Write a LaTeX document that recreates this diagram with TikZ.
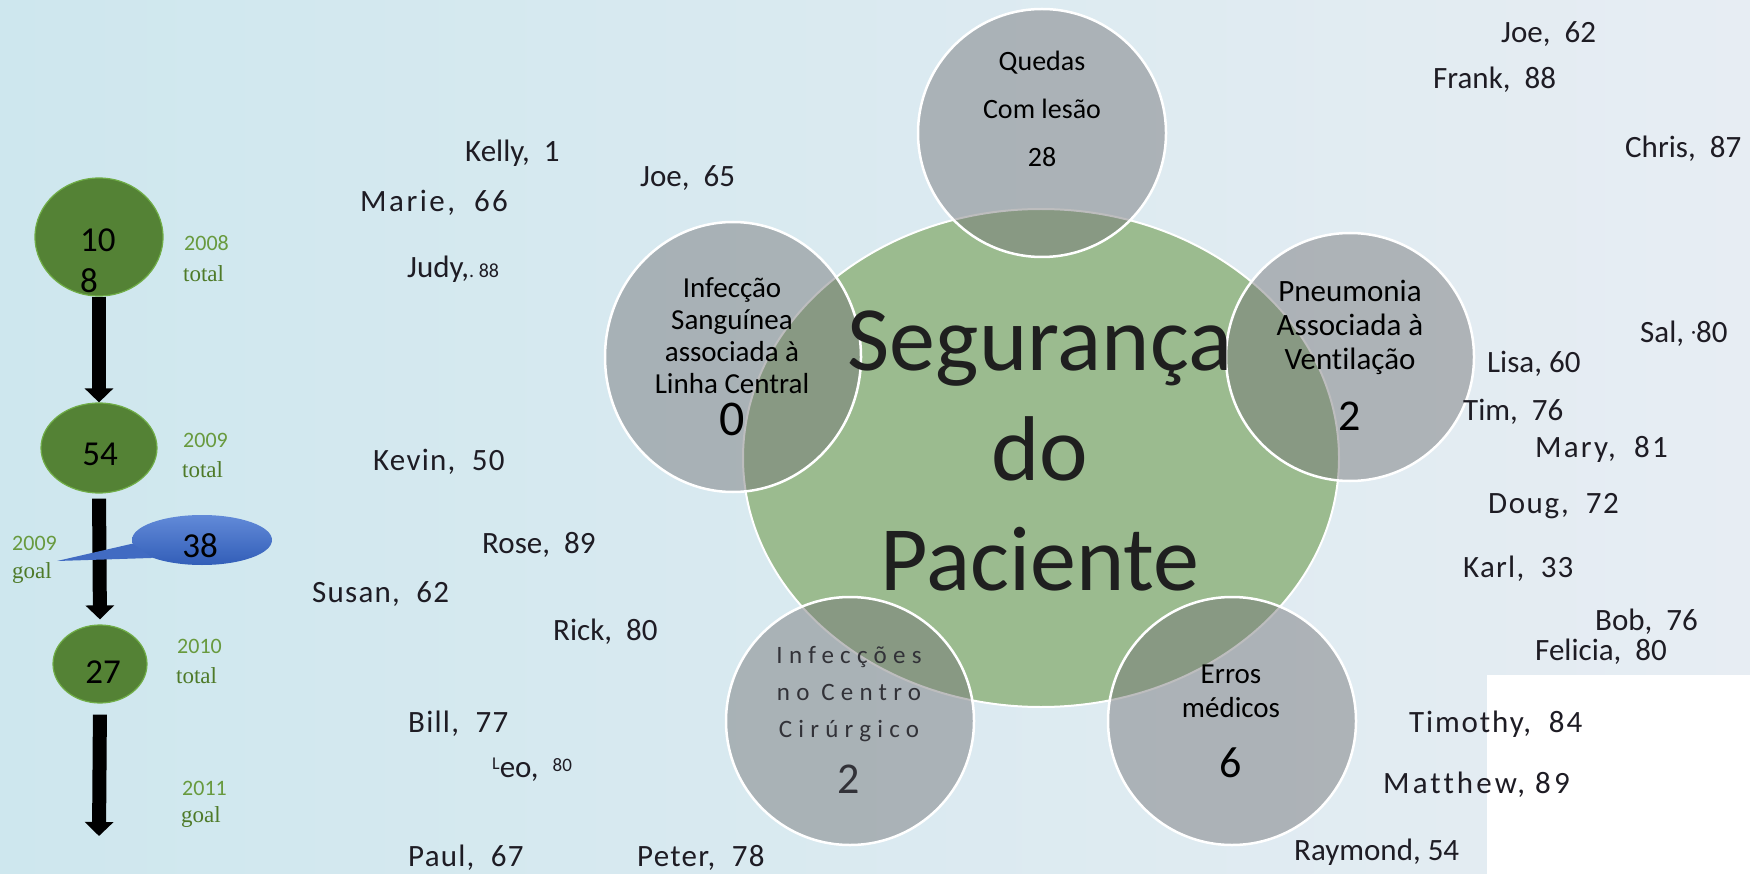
\documentclass[tikz,border=0pt]{standalone}
\usepackage{fontspec}
\setmainfont{Carlito}[Ligatures=NoCommon]
\newfontfamily\timesf{Liberation Serif}
\usetikzlibrary{shapes.geometric,arrows.meta}
\definecolor{bgL}{RGB}{206,231,238}
\definecolor{bgR}{RGB}{231,237,243}
\definecolor{segGreen}{RGB}{155,187,143}
\definecolor{ringGray}{RGB}{115,115,118}
\definecolor{darkGreen}{RGB}{84,130,53}
\definecolor{edgeGreen}{RGB}{112,173,71}
\definecolor{yearGreen}{RGB}{104,154,62}
\definecolor{wordGreen}{RGB}{78,122,40}
\definecolor{bubTop}{RGB}{98,138,216}
\definecolor{bubBot}{RGB}{50,94,184}
\definecolor{inkc}{RGB}{30,28,36}
\definecolor{softInk}{RGB}{50,50,56}
\begin{document}
\begin{tikzpicture}[x=1pt,y=-1pt,
  nm/.style={anchor=base west, inner sep=0pt, text=inkc, font=\fontsize{31}{37}\selectfont},
  topic/.style={draw=white, line width=2.5pt, fill=ringGray, fill opacity=0.47, text opacity=1, inner sep=0pt},
  tt/.style={align=center, anchor=base, inner sep=0pt, text=black},
  yeardot/.style={ellipse, fill=darkGreen, draw=edgeGreen, line width=1.2pt, inner sep=0pt},
  flow/.style={line width=14pt, black, -{Triangle[width=28pt,length=14pt]}},
  yr/.style={anchor=base west, inner sep=0pt, text=yearGreen, font=\fontsize{22}{22}\selectfont},
  wd/.style={anchor=base west, inner sep=0pt, text=wordGreen, font=\timesf\fontsize{23}{23}\selectfont},
  num/.style={anchor=base, inner sep=0pt, text=black, font=\fontsize{35}{41}\selectfont}
]
\useasboundingbox (0,0) rectangle (1750,874);
\shade[left color=bgL, right color=bgR] (0,0) rectangle (1750,874);
\fill[white] (1487,675) rectangle (1750,874);

% central shape and topic circles
\node[ellipse, fill=segGreen, draw=white, line width=2pt, minimum width=596pt, minimum height=498pt, inner sep=0pt] (seg) at (1041,458) {};
\node[topic, circle, minimum size=248pt] (quedas) at (1042,133) {};
\node[topic, ellipse, minimum width=256pt, minimum height=270pt] (sang) at (733,357) {};
\node[topic, circle, minimum size=248pt] (pneu) at (1350,357) {};
\node[topic, circle, minimum size=248pt] (cirur) at (850,721) {};
\node[topic, circle, minimum size=248pt] (erros) at (1232,721) {};

% multi-line nodes: anchor=base is the baseline of the last line
\node[tt, font=\fontsize{92}{110}\selectfont, text=black!88] (segT) at (1040,590) {Segurança\\do\\Paciente};
\node[tt, font=\fontsize{28}{48}\selectfont] (quedasT) at (1042,167) {Quedas\\Com lesão\\28};
\node[tt, font=\fontsize{29}{32}\selectfont] (sangT) at (732,393) {Infecção\\Sanguínea\\associada à\\Linha Central};
\node[tt, font=\fontsize{50}{50}\selectfont] (sangN) at (732,435) {0};
\node[tt, font=\fontsize{31}{34}\selectfont] (pneuT) at (1350,370) {Pneumonia\\Associada à\\Ventilação};
\node[tt, font=\fontsize{44}{44}\selectfont] (pneuN) at (1350,430) {2};
\node[tt, font=\fontsize{29}{34}\selectfont] (errosT) at (1231,717) {Erros\\médicos};
\node[tt, font=\fontsize{44}{44}\selectfont] (errosN) at (1231,777) {6};
\node[tt, text=softInk, font=\fontsize{25}{37}\selectfont\addfontfeatures{LetterSpace=25}] (cirurT) at (849,737) {Infecções\\no Centro\\Cirúrgico};
\node[tt, text=softInk, font=\fontsize{44}{44}\selectfont] (cirurN) at (849,793) {2};

% timeline
\node[yeardot, minimum width=128pt, minimum height=118pt] (c108) at (99,237) {};
\node[anchor=base west, inner sep=0pt, align=left, font=\fontsize{35}{41}\selectfont] (t108) at (80,293) {10\\8};
\node[yeardot, minimum width=116pt, minimum height=90pt] (c54) at (99,448) {};
\node[num] (t54) at (100,465) {54};
\node[yeardot, minimum width=94pt, minimum height=78pt] (c27) at (100,664) {};
\node[num] (t27) at (103,683) {27};
\coordinate (endA) at (99,836);
\draw[flow] (c108.south) -- (c54.north);
\draw[flow, shorten <=5pt, shorten >=5pt] (c54.south) -- (c27.north);
\draw[flow, shorten <=11pt] (c27.south) -- (endA);

\node[ellipse, top color=bubTop, bottom color=bubBot, minimum width=140pt, minimum height=50pt, inner sep=0pt] (bub) at (202,540) {};
\coordinate (tailtip) at (57,561);
\fill[bubBot!70!bubTop] (bub.183) -- (tailtip) -- (bub.200) -- cycle;
\node[num] (t38) at (200,557) {38};

\node[yr] (y2008) at (184,251) {2008};
\node[wd] (w2008) at (183,282) {total};
\node[yr] (y2009) at (183,447) {2009};
\node[wd] (w2009) at (182,477) {total};
\node[yr] (y2009g) at (12,550) {2009};
\node[wd] (w2009g) at (12,578) {goal};
\node[yr] (y2010) at (177,653) {2010};
\node[wd] (w2010) at (176,683) {total};
\node[yr] (y2011) at (182,795) {2011};
\node[wd] (w2011) at (181,822) {goal};

% names
\node[nm] (n1) at (465,162) {Kelly,\ \ 1};
\node[nm] (n2) at (640,187) {Joe,\ \ 65};
\node[nm, font=\fontsize{31}{37}\selectfont\addfontfeatures{LetterSpace=8}] (n3) at (360,212) {Marie,\ \ 66};
\node[nm] (n4) at (407,278) {Judy,{\fontsize{20}{20}\selectfont.\ 88}};
\node[nm, font=\fontsize{31}{37}\selectfont\addfontfeatures{LetterSpace=4}] (n5) at (373,470) {Kevin,\ \ 50};
\node[nm] (n6) at (482,553) {Rose,\ \ 89};
\node[nm, font=\fontsize{31}{37}\selectfont\addfontfeatures{LetterSpace=4}] (n7) at (312,602) {Susan,\ \ 62};
\node[nm] (n8) at (553,640) {Rick,\ \ 80};
\node[nm, font=\fontsize{31}{37}\selectfont\addfontfeatures{LetterSpace=4}] (n9) at (408,732) {Bill,\ \ 77};
\node[nm] (n10) at (492,777) {{\fontsize{18}{18}\selectfont\raisebox{8pt}{L}}eo,\ \ {\fontsize{19}{19}\selectfont\raisebox{6pt}{80}}};
\node[nm, font=\fontsize{31}{37}\selectfont\addfontfeatures{LetterSpace=4}] (n11) at (408,866) {Paul,\ \ 67};
\node[nm, font=\fontsize{31}{37}\selectfont\addfontfeatures{LetterSpace=4}] (n12) at (637,866) {Peter,\ \ 78};
\node[nm] (n13) at (1501,43) {Joe,\ \ 62};
\node[nm] (n14) at (1433,89) {Frank,\ \ 88};
\node[nm] (n15) at (1625,158) {Chris,\ \ 87};
\node[nm] (n16) at (1640,342) {Sal,\ {\fontsize{20}{20}\selectfont\raisebox{3pt}{·}}80};
\node[nm] (n17) at (1487,372) {Lisa, 60};
\node[nm] (n18) at (1463,420) {Tim,\ \ 76};
\node[nm, font=\fontsize{31}{37}\selectfont\addfontfeatures{LetterSpace=7}] (n19) at (1535,457) {Mary,\ \ 81};
\node[nm, font=\fontsize{31}{37}\selectfont\addfontfeatures{LetterSpace=5}] (n20) at (1488,513) {Doug,\ \ 72};
\node[nm, font=\fontsize{31}{37}\selectfont\addfontfeatures{LetterSpace=4}] (n21) at (1463,577) {Karl,\ \ 33};
\node[nm] (n22) at (1595,630) {Bob,\ \ 76};
\node[nm] (n23) at (1535,660) {Felicia,\ \ 80};
\node[nm, font=\fontsize{31}{37}\selectfont\addfontfeatures{LetterSpace=6}] (n24) at (1409,732) {Timothy,\ \ 84};
\node[nm, font=\fontsize{31}{37}\selectfont\addfontfeatures{LetterSpace=10}] (n25) at (1383,793) {Matthew, 89};
\node[nm] (n26) at (1294,860) {Raymond, 54};
\end{tikzpicture}
\end{document}
